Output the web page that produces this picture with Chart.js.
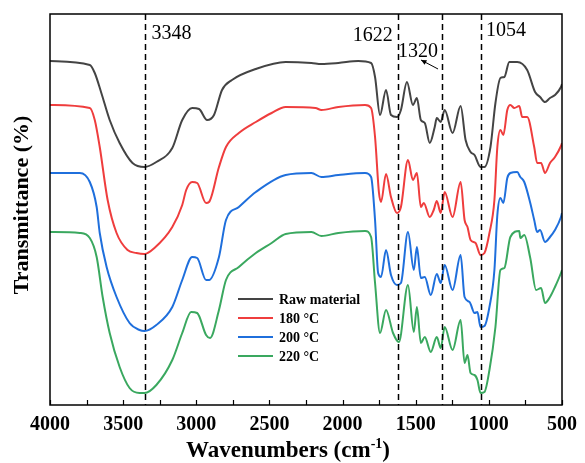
<!DOCTYPE html>
<html>
<head>
<meta charset="utf-8">
<script src="https://cdn.jsdelivr.net/npm/chart.js@4"></script>
<style>
  html, body { margin: 0; padding: 0; background: #fff; }
  #wrap { width: 585px; height: 463px; }
</style>
</head>
<body>
<div id="wrap"><canvas id="c" width="585" height="463"></canvas></div>
<script>
// FTIR spectra, offset transmittance (arbitrary units)
const seriesNames = ['Raw material', '180 \u00b0C', '200 \u00b0C', '220 \u00b0C']
const seriesColors = ['#444444', '#ef3d3d', '#1f6fdc', '#3aa85f']

const rawWn = [4000, 3728, 3694, 3649, 3592, 3524, 3436, 3354, 3273, 3164, 3096, 3028, 2981, 2926, 2879, 2824, 2756, 2593, 2389, 2213, 2145, 2029, 1893, 1805, 1778, 1744, 1703, 1669, 1628, 1601, 1560, 1519, 1492, 1465, 1438, 1404, 1370, 1356, 1329, 1302, 1248, 1193, 1159, 1125, 1098, 1057, 1030, 989, 955, 921, 894, 860, 806, 738, 684, 650, 616, 582, 548, 507, 500]
const rawT = [344, 340, 332, 312, 285, 262, 242, 238, 243, 257, 285, 297, 296, 285, 290, 315, 325, 336, 343, 342, 341, 342, 344, 342, 328, 290, 315, 290, 288, 295, 323, 300, 307, 285, 282, 262, 278, 287, 283, 295, 272, 299, 265, 253, 250, 238, 238, 258, 302, 327, 328, 343, 343, 335, 313, 308, 303, 307, 310, 318, 321]

const t180Wn = [4000, 3728, 3694, 3660, 3606, 3545, 3470, 3409, 3354, 3286, 3164, 3096, 3069, 3028, 2994, 2933, 2913, 2845, 2797, 2709, 2593, 2485, 2389, 2185, 2145, 2029, 1846, 1805, 1778, 1751, 1737, 1703, 1669, 1628, 1601, 1553, 1519, 1492, 1465, 1445, 1404, 1377, 1356, 1329, 1302, 1248, 1193, 1166, 1146, 1125, 1091, 1057, 1030, 996, 962, 942, 921, 901, 874, 853, 826, 792, 772, 738, 690, 670, 643, 616, 582, 548, 507, 500]
const t180T = [300, 297, 285, 258, 205, 172, 155, 152, 151, 157, 178, 200, 215, 223, 222, 202, 203, 238, 258, 272, 283, 292, 298, 297, 295, 298, 300, 297, 268, 212, 203, 231, 208, 192, 198, 245, 225, 232, 198, 202, 188, 195, 204, 192, 213, 188, 223, 185, 178, 165, 162, 150, 152, 172, 205, 258, 275, 270, 295, 300, 297, 299, 288, 288, 258, 242, 242, 232, 242, 248, 259, 262]

const t200Wn = [4000, 3796, 3728, 3681, 3660, 3613, 3545, 3456, 3388, 3354, 3273, 3164, 3096, 3028, 2994, 2933, 2913, 2845, 2797, 2709, 2593, 2389, 2213, 2145, 2029, 1846, 1805, 1778, 1757, 1737, 1703, 1669, 1628, 1601, 1553, 1513, 1492, 1465, 1438, 1397, 1356, 1329, 1302, 1248, 1193, 1166, 1132, 1098, 1078, 1057, 1030, 996, 962, 942, 921, 901, 874, 853, 806, 785, 758, 717, 690, 670, 650, 616, 582, 548, 507, 500]
const t200T = [232, 232, 223, 198, 172, 138, 108, 82, 75, 74, 80, 98, 125, 148, 147, 125, 125, 148, 185, 198, 213, 230, 232, 228, 230, 232, 228, 185, 132, 128, 155, 130, 120, 122, 173, 135, 158, 127, 128, 110, 131, 122, 140, 115, 150, 108, 103, 92, 93, 78, 79, 98, 135, 190, 207, 202, 227, 232, 233, 228, 223, 202, 185, 173, 175, 163, 168, 175, 188, 192]

const t220Wn = [4000, 3796, 3728, 3681, 3640, 3592, 3524, 3456, 3388, 3354, 3273, 3164, 3096, 3035, 2994, 2933, 2906, 2845, 2797, 2709, 2593, 2485, 2389, 2213, 2145, 2029, 1846, 1805, 1778, 1744, 1703, 1655, 1615, 1553, 1513, 1492, 1465, 1438, 1397, 1356, 1329, 1302, 1248, 1193, 1166, 1146, 1125, 1098, 1078, 1057, 1030, 996, 955, 921, 894, 853, 792, 785, 758, 717, 677, 643, 616, 582, 548, 507, 500]
const t220T = [173, 172, 167, 148, 108, 72, 38, 17, 12, 12, 20, 45, 72, 93, 92, 70, 67, 95, 125, 138, 152, 162, 171, 173, 169, 172, 174, 168, 122, 72, 95, 72, 63, 120, 73, 98, 62, 68, 53, 68, 57, 78, 55, 85, 42, 50, 32, 30, 25, 12, 13, 35, 78, 135, 137, 168, 174, 167, 170, 147, 115, 117, 102, 108, 118, 132, 135]

// x axis ticks and marked bands
const xMin = 500
const xMax = 4000
const majorStep = 500
const minorStep = 250
const bandWn = [3348, 1622, 1320, 1054]
const bandLabels = ['3348', '1622', '1320', '1054']

const serif = "'Liberation Serif', 'Times New Roman', serif"

const toPoints = (wn, t) => wn.map((w, i) => ({ x: w, y: t[i] }))
const allWn = [rawWn, t180Wn, t200Wn, t220Wn]
const allT = [rawT, t180T, t200T, t220T]

const overlay = {
  id: 'overlay',
  afterDraw(chart) {
    const { ctx, chartArea: a, scales: { x } } = chart
    ctx.save()

    // frame
    ctx.strokeStyle = '#000'
    ctx.lineWidth = 1.5
    ctx.setLineDash([])
    ctx.strokeRect(a.left, a.top, a.right - a.left, a.bottom - a.top)

    // inward ticks on the bottom axis
    ctx.lineWidth = 1.2
    for (let w = xMin; w <= xMax; w += minorStep) {
      const px = Math.round(x.getPixelForValue(w)) + 0.5
      ctx.beginPath()
      ctx.moveTo(px, a.bottom)
      ctx.lineTo(px, a.bottom - 5)
      ctx.stroke()
    }

    // dashed band lines
    ctx.lineWidth = 1.5
    ctx.setLineDash([6, 4])
    bandWn.forEach(w => {
      const px = Math.round(x.getPixelForValue(w)) + 0.5
      ctx.beginPath()
      ctx.moveTo(px, a.top)
      ctx.lineTo(px, a.bottom)
      ctx.stroke()
    })
    ctx.setLineDash([])

    // band labels
    ctx.fillStyle = '#000'
    ctx.font = `20px ${serif}`
    ctx.textBaseline = 'alphabetic'
    const p0 = x.getPixelForValue(bandWn[0])
    const p1 = x.getPixelForValue(bandWn[1])
    const p2 = x.getPixelForValue(bandWn[2])
    const p3 = x.getPixelForValue(bandWn[3])
    ctx.textAlign = 'left'
    ctx.fillText(bandLabels[0], p0 + 6, 39)
    ctx.fillText(bandLabels[3], p3 + 5, 36)
    ctx.textAlign = 'right'
    ctx.fillText(bandLabels[1], p1 - 5, 41)
    ctx.fillText(bandLabels[2], p2 - 4, 57)

    // small arrow next to 1320
    const ax0 = p2 - 4, ay0 = 69, ax1 = p2 - 21, ay1 = 60
    ctx.lineWidth = 1
    ctx.beginPath()
    ctx.moveTo(ax0, ay0)
    ctx.lineTo(ax1, ay1)
    ctx.stroke()
    const ang = Math.atan2(ay1 - ay0, ax1 - ax0)
    ctx.beginPath()
    ctx.moveTo(ax1, ay1)
    ctx.lineTo(ax1 - 6 * Math.cos(ang - 0.45), ay1 - 6 * Math.sin(ang - 0.45))
    ctx.lineTo(ax1 - 6 * Math.cos(ang + 0.45), ay1 - 6 * Math.sin(ang + 0.45))
    ctx.closePath()
    ctx.fill()

    // legend
    ctx.font = `bold 14px ${serif}`
    ctx.textAlign = 'left'
    ctx.textBaseline = 'middle'
    chart.data.datasets.forEach((ds, i) => {
      const ly = 299 + i * 19
      ctx.strokeStyle = ds.borderColor
      ctx.lineWidth = 2
      ctx.beginPath()
      ctx.moveTo(238, ly)
      ctx.lineTo(273, ly)
      ctx.stroke()
      ctx.fillStyle = '#000'
      ctx.fillText(ds.label, 279, ly + 1)
    })

    // axis titles
    ctx.fillStyle = '#000'
    ctx.textBaseline = 'alphabetic'
    ctx.save()
    ctx.translate(28, 205)
    ctx.rotate(-Math.PI / 2)
    ctx.textAlign = 'center'
    ctx.font = `bold 22px ${serif}`
    ctx.fillText('Transmittance (%)', 0, 0)
    ctx.restore()

    const main = 'Wavenumbers (cm'
    const sup = '-1'
    const tail = ')'
    ctx.font = `bold 23px ${serif}`
    const wMain = ctx.measureText(main).width
    const wTail = ctx.measureText(tail).width
    ctx.font = `bold 14px ${serif}`
    const wSup = ctx.measureText(sup).width
    let tx = 288 - (wMain + wSup + wTail) / 2
    const ty = 457
    ctx.textAlign = 'left'
    ctx.font = `bold 23px ${serif}`
    ctx.fillText(main, tx, ty)
    tx += wMain
    ctx.font = `bold 14px ${serif}`
    ctx.fillText(sup, tx, ty - 9)
    tx += wSup
    ctx.font = `bold 23px ${serif}`
    ctx.fillText(tail, tx, ty)

    ctx.restore()
  }
}

new Chart(document.getElementById('c').getContext('2d'), {
  type: 'line',
  data: {
    datasets: seriesNames.map((name, i) => ({
      label: name,
      data: toPoints(allWn[i], allT[i]),
      borderColor: seriesColors[i],
      backgroundColor: seriesColors[i],
      borderWidth: 2,
      pointRadius: 0,
      fill: false,
      cubicInterpolationMode: 'monotone',
    })),
  },
  options: {
    responsive: false,
    animation: false,
    devicePixelRatio: 1,
    layout: { padding: { top: 14, right: 20, left: 0, bottom: 0 } },
    plugins: {
      legend: { display: false },
      tooltip: { enabled: false },
    },
    scales: {
      x: {
        type: 'linear',
        reverse: true,
        min: xMin,
        max: xMax,
        grid: { display: false, drawTicks: false },
        border: { display: false },
        ticks: {
          stepSize: majorStep,
          autoSkip: false,
          maxRotation: 0,
          padding: 8,
          color: '#000',
          font: { family: serif, size: 20, weight: 'bold' },
          callback: v => String(v),
        },
        afterFit(s) { s.height = 58 },
      },
      y: {
        min: 0,
        max: 391,
        grid: { display: false },
        border: { display: false },
        ticks: { display: false },
        afterFit(s) { s.width = 50 },
      },
    },
  },
  plugins: [overlay],
})
</script>
</body>
</html>
